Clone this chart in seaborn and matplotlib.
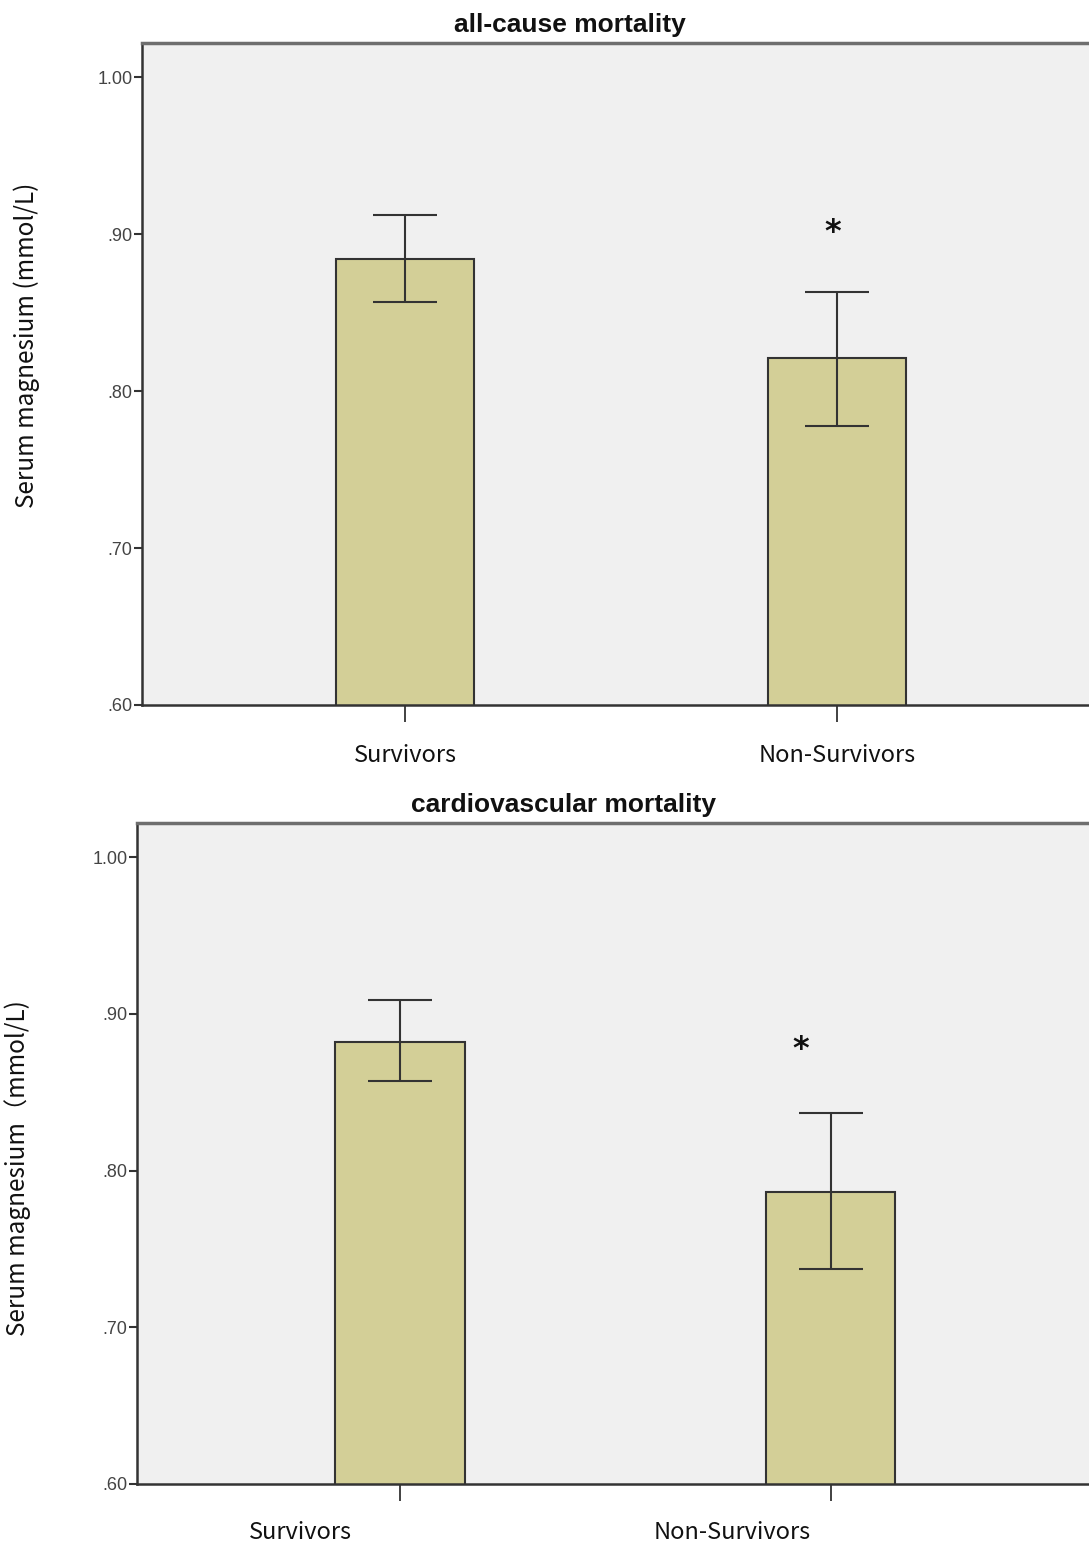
import numpy as np
import pandas as pd
import matplotlib
matplotlib.use('Agg')
import matplotlib.pyplot as plt
import seaborn as sns

# Values
groups = ['Survivors', 'Non-Survivors']
allcause_mean = [0.884, 0.821]
allcause_upper = [0.912, 0.863]
allcause_lower = [0.857, 0.778]
cardio_mean = [0.882, 0.786]
cardio_upper = [0.909, 0.837]
cardio_lower = [0.857, 0.737]
star_y = [0.901, 0.877]
ytick_vals = [0.60, 0.70, 0.80, 0.90, 1.00]
ytick_labels = ['.60', '.70', '.80', '.90', '1.00']
titles = ['all-cause mortality', 'cardiovascular mortality']
ylabels = ['Serum magnesium (mmol/L)', 'Serum magnesium（mmol/L)']

sns.set_style('white')
plt.rcParams['font.family'] = ['Liberation Sans', 'DejaVu Sans']

bar_color = '#d3cf97'
line_color = '#333333'

fig = plt.figure(figsize=(10.89, 15.48), dpi=100)
W, H = 1089, 1548

# panel geometry in pixels plus a few offsets in data / axes units
panels = [
    dict(left=142, top=43, bottom=705, xlim=(-0.609, 1.583), width=0.32,
         lab_shift=0.0, lab_y=-0.076, star_shift=-0.01, title_x=0.452,
         ylab_x=27, ylab_y=345),
    dict(left=137, top=823, bottom=1484, xlim=(-0.610, 1.599), width=0.30,
         lab_shift=-0.23, lab_y=-0.074, star_shift=-0.07, title_x=0.4475,
         ylab_x=18, ylab_y=1168),
]
means = [allcause_mean, cardio_mean]
uppers = [allcause_upper, cardio_upper]
lowers = [allcause_lower, cardio_lower]

for i, p in enumerate(panels):
    ax = fig.add_axes([p['left'] / W, 1 - p['bottom'] / H,
                       1 - p['left'] / W, (p['bottom'] - p['top']) / H])
    ax.set_facecolor('#f0f0f0')
    df = pd.DataFrame({'group': groups, 'mean': means[i]})
    sns.barplot(data=df, x='group', y='mean', ax=ax, color=bar_color,
                saturation=1, edgecolor=line_color, linewidth=1.5,
                width=p['width'], errorbar=None)
    m = np.array(means[i])
    yerr = [m - np.array(lowers[i]), np.array(uppers[i]) - m]
    ax.errorbar(np.arange(len(groups)), m, yerr=yerr, fmt='none',
                ecolor=line_color, elinewidth=1.5, capsize=23, capthick=1.5)
    ax.text(1 + p['star_shift'], star_y[i], '*', ha='center', va='center',
            fontsize=23, fontweight='bold', color='#111111', family='DejaVu Sans')

    ax.set_xlim(*p['xlim'])
    ax.set_ylim(0.60, 1.0217)
    ax.set_yticks(ytick_vals)
    ax.set_yticklabels(ytick_labels)
    ax.tick_params(axis='y', length=6, width=1.5, color=line_color,
                   labelsize=13, labelcolor='#444444', pad=1, left=True)
    ax.set_xticks([0, 1])
    ax.set_xticklabels(['', ''])
    ax.tick_params(axis='x', length=12, width=1.3, color=line_color, bottom=True)
    for j, g in enumerate(groups):
        ax.text(j + p['lab_shift'], p['lab_y'], g, transform=ax.get_xaxis_transform(),
                ha='center', va='center', fontsize=17, color='#111111',
                family=['Noto Sans CJK SC', 'DejaVu Sans'])

    for s in ['left', 'bottom']:
        ax.spines[s].set_color(line_color)
        ax.spines[s].set_linewidth(1.8)
    ax.spines['top'].set_color('#6e6e6e')
    ax.spines['top'].set_linewidth(2.5)
    ax.spines['right'].set_visible(False)
    ax.set_xlabel('')
    ax.set_ylabel('')
    ax.set_title(titles[i], fontsize=19, fontweight='bold', color='#111111',
                 pad=8, x=p['title_x'])

    fig.text(p['ylab_x'] / W, 1 - p['ylab_y'] / H, ylabels[i], rotation=90,
             ha='center', va='center', fontsize=17.5, color='#111111',
             family=['Noto Sans CJK SC', 'DejaVu Sans'])

fig.savefig('out.png', dpi=100)
